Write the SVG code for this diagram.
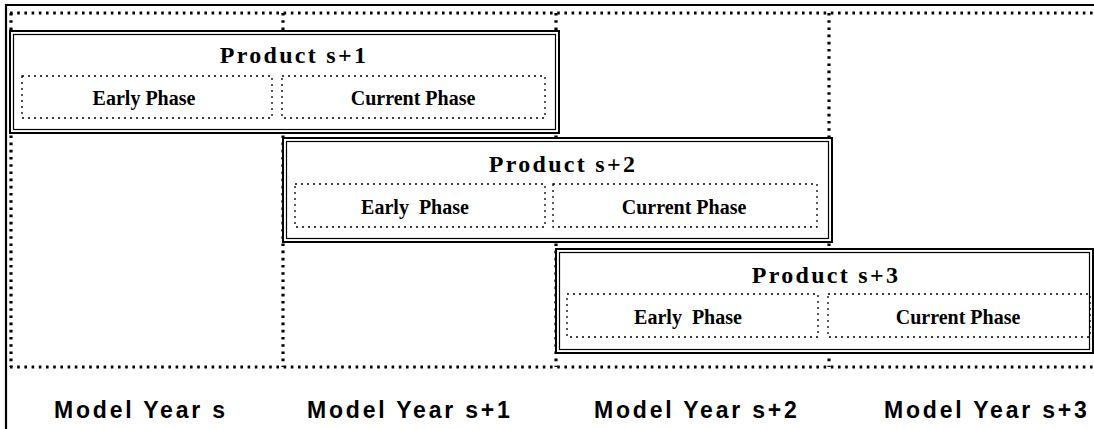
<svg xmlns="http://www.w3.org/2000/svg" width="1094" height="429" viewBox="0 0 1094 429">
<style>
.frame{stroke:#000;stroke-width:2.2;fill:none}
.grid{stroke:#000;stroke-width:3.2;stroke-dasharray:2.6 4.6;fill:none}
.outer{stroke:#000;stroke-width:2;fill:#fff}
.inner{stroke:#000;stroke-width:1.2;fill:none}
.phase{stroke:#000;stroke-width:1.3;stroke-dasharray:2 4;fill:none}
.title{font-family:"Liberation Serif","Times New Roman",serif;font-weight:bold;font-size:24px;letter-spacing:2.3px;text-anchor:middle;fill:#000}
.ph{font-family:"Liberation Serif","Times New Roman",serif;font-weight:bold;font-size:20px;text-anchor:middle;fill:#000;white-space:pre}
.year{font-family:"Liberation Sans",Arial,sans-serif;font-weight:bold;font-size:23px;letter-spacing:2.8px;fill:#000}
</style>
<rect width="1094" height="429" fill="#fff"/>
<g id="frame">
<line class="frame" x1="5" y1="5" x2="1094" y2="5"/>
<line class="frame" x1="6" y1="4" x2="6" y2="429"/>
</g>
<g id="connectors">
<line class="grid" x1="10" y1="13" x2="1094" y2="13"/>
<line class="grid" x1="11" y1="13" x2="11" y2="367"/>
<line class="grid" x1="10" y1="367" x2="1094" y2="367"/>
<line class="grid" x1="283" y1="13" x2="283" y2="367"/>
<line class="grid" x1="556" y1="13" x2="556" y2="367"/>
<line class="grid" x1="829" y1="13" x2="829" y2="367"/>
</g>
<g id="product-s1">
<rect class="outer" x="10" y="31" width="549" height="102"/>
<rect class="inner" x="13.5" y="34.5" width="542" height="95"/>
<text class="title" x="294" y="63">Product s+1</text>
<rect class="phase" x="22" y="76" width="250" height="42"/>
<rect class="phase" x="282" y="76" width="263" height="42"/>
<text class="ph" x="144" y="105">Early Phase</text>
<text class="ph" x="413" y="105">Current Phase</text>
</g>
<g id="product-s2">
<rect class="outer" x="283" y="138" width="549" height="104"/>
<rect class="inner" x="286.5" y="141.5" width="542" height="97"/>
<text class="title" x="563" y="172">Product s+2</text>
<rect class="phase" x="295" y="184" width="250" height="43"/>
<rect class="phase" x="553" y="184" width="264" height="43"/>
<text class="ph" x="415" y="214">Early  Phase</text>
<text class="ph" x="684" y="214">Current Phase</text>
</g>
<g id="product-s3">
<rect class="outer" x="556" y="249" width="537" height="104"/>
<rect class="inner" x="559.5" y="252.5" width="530" height="97"/>
<text class="title" x="826" y="283">Product s+3</text>
<rect class="phase" x="567" y="294" width="251" height="43"/>
<rect class="phase" x="828" y="294" width="262" height="43"/>
<text class="ph" x="688" y="324">Early  Phase</text>
<text class="ph" x="958" y="324">Current Phase</text>
</g>
<g id="years">
<text class="year" x="54" y="418">Model Year s</text>
<text class="year" x="307" y="418">Model Year s+1</text>
<text class="year" x="594" y="418">Model Year s+2</text>
<text class="year" x="884" y="418">Model Year s+3</text>
</g>
</svg>
